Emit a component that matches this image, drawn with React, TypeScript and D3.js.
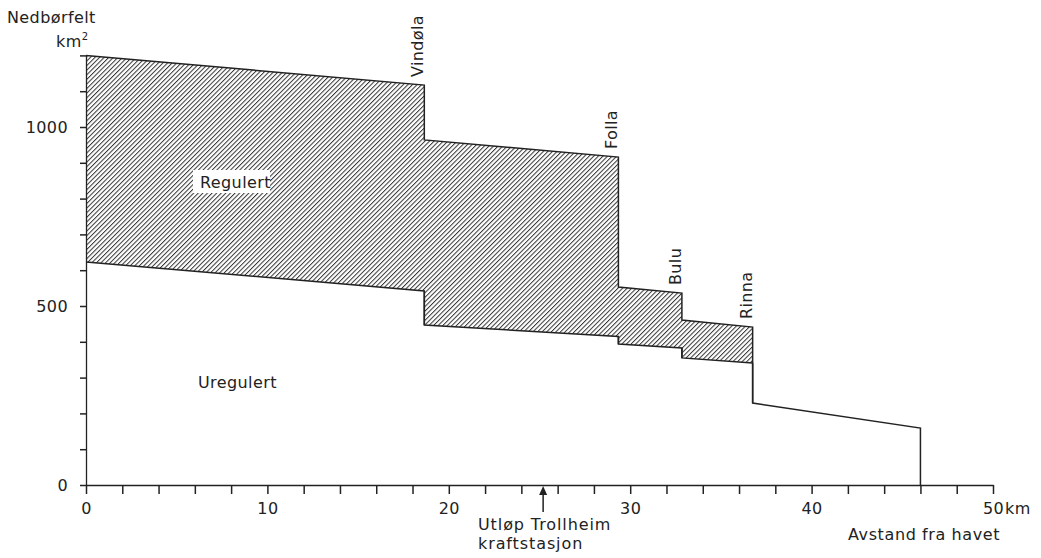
import React, { useEffect, useRef } from 'react';
import * as d3 from 'd3';

// elvestrekninger (km fra havet) og nedbørfelt i km2
const stations = ['Vindøla', 'Folla', 'Bulu', 'Rinna'];
const segStartKm = [0, 18.65, 29.35, 32.85, 36.75];
const segEndKm = [18.65, 29.35, 32.85, 36.75, 46];
const totalStart = [1200, 964, 553, 461, 229];
const totalEnd = [1117, 916, 536, 441, 159];
const unregStart = [623, 447, 394, 355];
const unregEnd = [542, 415, 383, 341];
const outletKm = 25.2;
const xTicks = d3.range(0, 51, 2);
const yTicks = d3.range(0, 1201, 100);

const width = 1041;
const height = 558;
const FONT = '"DejaVu Sans", sans-serif';

export default function App() {
  const xAxisRef = useRef<SVGGElement>(null);
  const yAxisRef = useRef<SVGGElement>(null);

  const x = d3.scaleLinear().domain([0, 50]).range([86, 993]);
  const y = d3.scaleLinear().domain([0, 1200]).range([485, 55.4]);

  useEffect(() => {
    const xAxis = d3.axisBottom(x)
      .tickValues(xTicks)
      .tickSize(9)
      .tickSizeOuter(0)
      .tickPadding(9)
      .tickFormat(d => (+d % 10 === 0 ? String(d) : ''));
    const gx = d3.select(xAxisRef.current!);
    gx.call(xAxis);
    gx.select('.domain').attr('stroke', '#222').attr('stroke-width', 1.3);
    gx.selectAll('.tick line').attr('stroke', '#222').attr('stroke-width', 1.5);
    gx.selectAll('.tick text')
      .attr('font-family', FONT).attr('font-size', 16).attr('fill', '#222')
      .attr('letter-spacing', 0.4);

    const yAxis = d3.axisLeft(y)
      .tickValues(yTicks)
      .tickSize(6)
      .tickSizeOuter(0)
      .tickPadding(12)
      .tickFormat(d => (+d % 500 === 0 ? String(d) : ''));
    const gy = d3.select(yAxisRef.current!);
    gy.call(yAxis);
    gy.select('.domain').attr('stroke', '#222').attr('stroke-width', 1.3);
    gy.selectAll('.tick line').attr('stroke', '#222').attr('stroke-width', 1.5);
    gy.selectAll('.tick text')
      .attr('font-family', FONT).attr('font-size', 16).attr('fill', '#222')
      .attr('letter-spacing', 0.4);
  }, []);

  // øvre kurve (totalt nedbørfelt)
  const totalPts: [number, number][] = [];
  segStartKm.forEach((s, i) => {
    totalPts.push([s, totalStart[i]]);
    totalPts.push([segEndKm[i], totalEnd[i]]);
  });
  totalPts.push([segEndKm[segEndKm.length - 1], 0]);

  const unregPts: [number, number][] = [];
  unregStart.forEach((v, i) => {
    unregPts.push([segStartKm[i], v]);
    unregPts.push([segEndKm[i], unregEnd[i]]);
  });

  // regulert område: mellom øvre og nedre kurve fram til Rinna
  const hatchPts: [number, number][] = [];
  for (let i = 0; i < unregStart.length; i++) {
    hatchPts.push([segStartKm[i], totalStart[i]]);
    hatchPts.push([segEndKm[i], totalEnd[i]]);
  }
  for (let i = unregStart.length - 1; i >= 0; i--) {
    hatchPts.push([segEndKm[i], unregEnd[i]]);
    hatchPts.push([segStartKm[i], unregStart[i]]);
  }

  const line = d3.line<[number, number]>().x(d => x(d[0])).y(d => y(d[1]));

  const txt = { fontFamily: FONT, fontSize: 16, fill: '#222', letterSpacing: 0.4 } as const;

  return (
    <svg width={width} height={height} style={{ position: 'absolute', left: 0, top: 0, background: '#fff' }}>
      <defs>
        <pattern id="hatch" width={3.25} height={3.25} patternUnits="userSpaceOnUse" patternTransform="rotate(45)">
          <line x1={0.5} y1={0} x2={0.5} y2={3.25} stroke="#333" strokeWidth={1} />
        </pattern>
      </defs>
      <rect width={width} height={height} fill="#fff" />
      <path d={line(hatchPts) + 'Z'} fill="url(#hatch)" stroke="none" />
      <rect x={193} y={170} width={77} height={23} fill="#fff" />
      <path d={line(totalPts)!} fill="none" stroke="#222" strokeWidth={1.5} />
      <path d={line(unregPts)!} fill="none" stroke="#222" strokeWidth={1.5} />
      {unregStart.map((v, i) => (
        <line key={i} x1={x(segEndKm[i])} x2={x(segEndKm[i])} y1={y(unregEnd[i])} y2={y(i + 1 < unregStart.length ? unregStart[i + 1] : totalStart[i + 1])}
          stroke="#222" strokeWidth={1.5} />
      ))}
      <g ref={xAxisRef} transform={`translate(0,${y(0)})`} />
      <g ref={yAxisRef} transform={`translate(${x(0)},0)`} />

      {stations.map((s, i) => (
        <text key={s} {...txt} transform={`translate(${x(segEndKm[i]) - 1},${y(totalEnd[i]) - 8}) rotate(-90)`}>{s}</text>
      ))}

      <text {...txt} x={200} y={188} textAnchor="start">Regulert</text>
      <text {...txt} x={198} y={388}>Uregulert</text>
      <text {...txt} x={7} y={23}>Nedbørfelt</text>
      <text {...txt} x={56} y={47}>km<tspan fontSize={10} dy={-7}>2</tspan></text>
      <text {...txt} x={x(50) + 12} y={514}>km</text>

      <line x1={x(outletKm)} x2={x(outletKm)} y1={512} y2={490} stroke="#222" strokeWidth={1.5} />
      <path d={`M${x(outletKm)},${486} l-4,9 h8 Z`} fill="#222" />
      <text {...txt} x={478} y={530} letterSpacing={0.9}>Utløp Trollheim</text>
      <text {...txt} x={478} y={549} letterSpacing={0.9}>kraftstasjon</text>
      <text {...txt} x={848} y={540} letterSpacing={0.6}>Avstand fra havet</text>
    </svg>
  );
}
